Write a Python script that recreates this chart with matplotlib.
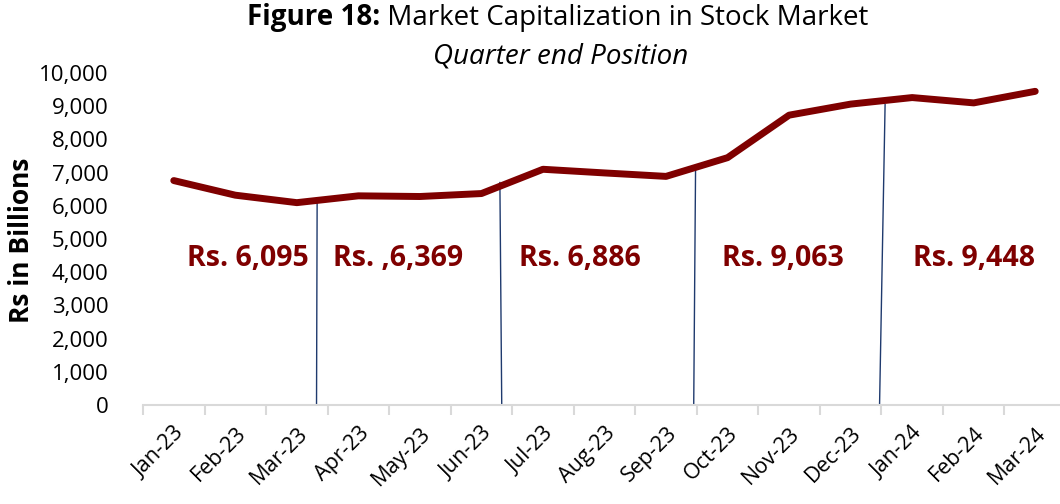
import numpy as np
import matplotlib.pyplot as plt
from matplotlib.ticker import FuncFormatter, FixedLocator

# data
months = ["Jan-23", "Feb-23", "Mar-23", "Apr-23", "May-23", "Jun-23", "Jul-23",
          "Aug-23", "Sep-23", "Oct-23", "Nov-23", "Dec-23", "Jan-24", "Feb-24", "Mar-24"]
market_cap = [6760, 6320, 6095, 6300, 6280, 6369, 7100, 6990, 6886, 7450,
              8730, 9063, 9260, 9100, 9448]

# quarter-end callouts: text, x position (category index), y position
callout_text = ["Rs. 6,095", "Rs. ,6,369", "Rs. 6,886", "Rs. 9,063", "Rs. 9,448"]
callout_x = [1.2, 3.65, 6.6, 9.9, 13.0]
callout_y = 4400

# divider lines: (x bottom, x top, y top)
divider_xb = [2.32, 5.33, 8.45, 11.47]
divider_xt = [2.33, 5.30, 8.48, 11.56]
divider_yt = [6130, 6700, 7150, 9050]

DARKRED = "#7f0000"
NAVY = "#1f3a6e"
plt.rcParams['font.family'] = ['Open Sans', 'DejaVu Sans']

fig = plt.figure(figsize=(10.6, 5.04), dpi=100)
W, H = 1060, 504
ax = fig.add_axes([143 / W, 1 - 405 / H, (1066 - 143) / W, (405 - 73) / H])

x = np.arange(len(months))
ax.plot(x, market_cap, color=DARKRED, lw=5, solid_capstyle="round", solid_joinstyle="round", zorder=3)

for xb, xt, yt in zip(divider_xb, divider_xt, divider_yt):
    ax.plot([xb, xt], [0, yt], color=NAVY, lw=1, zorder=2)

for t, cx in zip(callout_text, callout_x):
    ax.text(cx, callout_y, t, color=DARKRED, fontsize=20.5, fontweight="bold",
            ha="center", va="center")

ax.set_xlim(-0.5, len(months) - 0.5)
ax.set_ylim(0, 10000)
ax.set_yticks(np.arange(0, 10001, 1000))
ax.yaxis.set_major_formatter(FuncFormatter(lambda v, p: f"{int(v):,}"))
ax.tick_params(axis="y", length=0, pad=25, labelsize=16)

ax.set_xticks(x)
ax.set_xticklabels(months, rotation=45, ha="right", rotation_mode="anchor", fontsize=15.5)
ax.tick_params(axis="x", which="major", length=0, pad=13)
ax.xaxis.set_minor_locator(FixedLocator(np.arange(-0.5, len(months), 1.0)))
ax.tick_params(axis="x", which="minor", length=7, width=1.5, color="#d9d9d9")

for s in ["top", "right", "left"]:
    ax.spines[s].set_visible(False)
ax.spines["bottom"].set_color("#d9d9d9")
ax.spines["bottom"].set_linewidth(1.5)

fig.text(22 / W, 1 - 240 / H, "Rs in Billions", rotation=90, fontsize=19,
         fontweight="bold", ha="center", va="center")

# title: bold prefix + regular rest, centred together
r = fig.canvas.get_renderer()
t1 = fig.text(0, 1 - 18 / H, "Figure 18:", fontsize=20, fontweight="bold", va="center")
t2 = fig.text(0, 1 - 18 / H, " Market Capitalization in Stock Market", fontsize=20, va="center")
w1 = t1.get_window_extent(r).width
w2 = t2.get_window_extent(r).width
left = 558 - (w1 + w2) / 2
t1.set_x(left / W)
t2.set_x((left + w1) / W)
fig.text(561 / W, 1 - 57 / H, "Quarter end Position", fontsize=20, style="italic",
         ha="center", va="center")

fig.savefig("out.png", dpi=100)
